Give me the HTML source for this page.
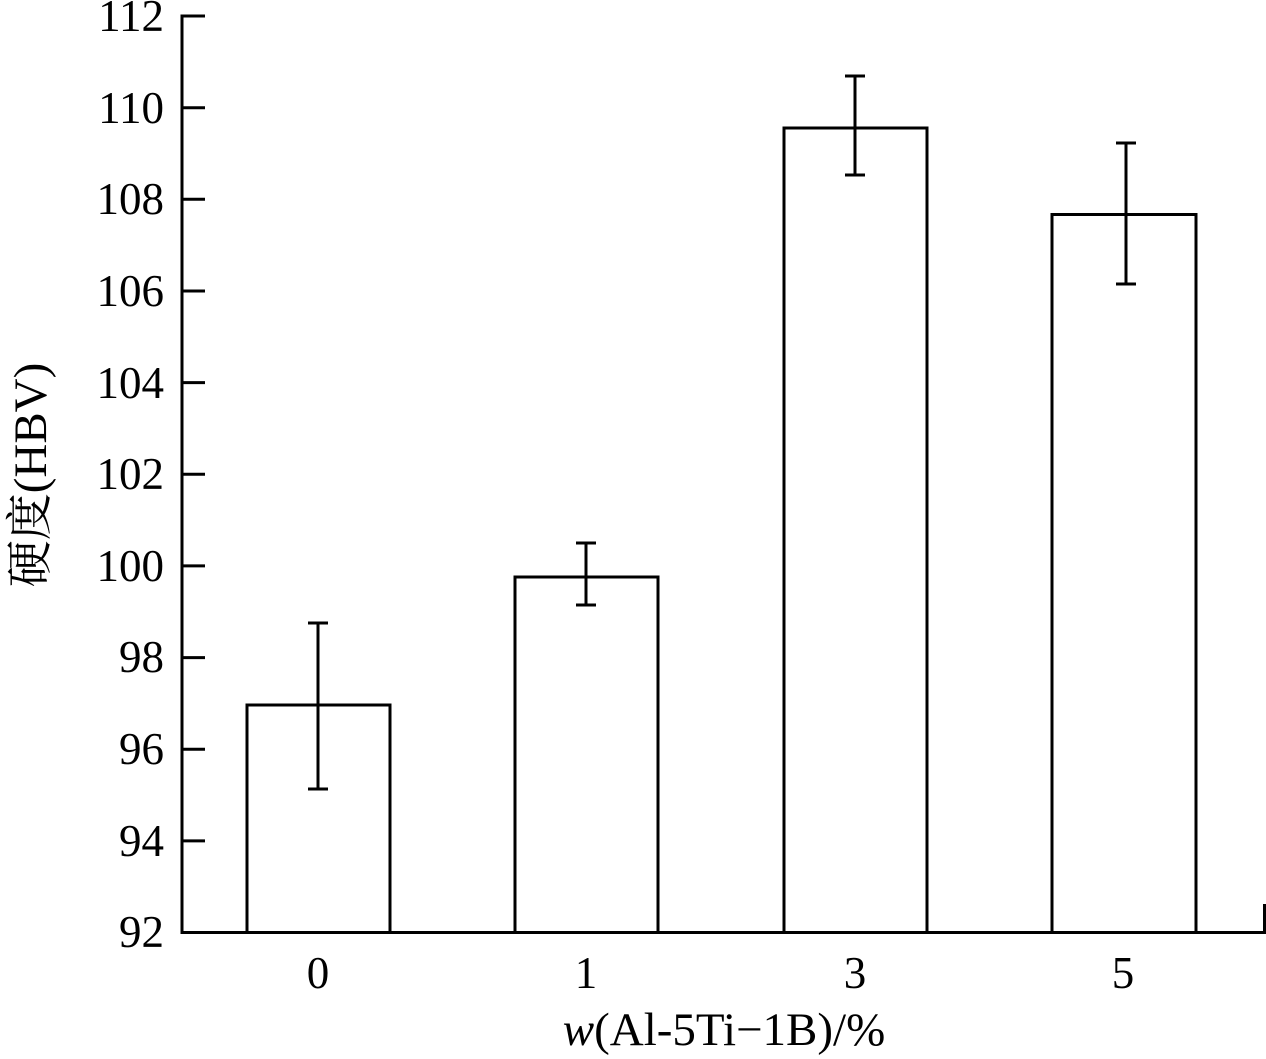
<!DOCTYPE html>
<html><head><meta charset="utf-8"><style>body{margin:0;background:#fff}svg{display:block}</style></head><body>
<svg width="1266" height="1059" xmlns="http://www.w3.org/2000/svg" font-family="Liberation Serif, Noto Serif CJK SC, serif" font-size="45">
<g stroke="#000" stroke-width="3" fill="none">
<line x1="182" y1="14.5" x2="182" y2="934"/>
<line x1="180.5" y1="932.5" x2="1265" y2="932.5"/>
<line x1="1264.5" y1="904" x2="1264.5" y2="934"/>
<g>
<line x1="182" y1="16" x2="205" y2="16"/>
<line x1="182" y1="107.7" x2="205" y2="107.7"/>
<line x1="182" y1="199.3" x2="205" y2="199.3"/>
<line x1="182" y1="291" x2="205" y2="291"/>
<line x1="182" y1="382.6" x2="205" y2="382.6"/>
<line x1="182" y1="474.3" x2="205" y2="474.3"/>
<line x1="182" y1="565.9" x2="205" y2="565.9"/>
<line x1="182" y1="657.6" x2="205" y2="657.6"/>
<line x1="182" y1="749.2" x2="205" y2="749.2"/>
<line x1="182" y1="840.9" x2="205" y2="840.9"/>
</g>
<rect x="247" y="705" width="143" height="227.5"/>
<rect x="515" y="577" width="143" height="355.5"/>
<rect x="784" y="128" width="143" height="804.5"/>
<rect x="1052" y="214.5" width="144" height="718"/>
<path d="M318 623V789M308 623H328M308 789H328"/>
<path d="M586 543V605M576 543H596M576 605H596"/>
<path d="M855 76V175M845 76H865M845 175H865"/>
<path d="M1126 143V284M1116 143H1136M1116 284H1136"/>
</g>
<g text-anchor="end">
<text x="164" y="31">112</text>
<text x="164" y="123">110</text>
<text x="164" y="214">108</text>
<text x="164" y="306">106</text>
<text x="164" y="398">104</text>
<text x="164" y="489">102</text>
<text x="164" y="581">100</text>
<text x="164" y="672">98</text>
<text x="164" y="764">96</text>
<text x="164" y="856">94</text>
<text x="164" y="947">92</text>
</g>
<g text-anchor="middle">
<text x="318" y="988">0</text>
<text x="586" y="988">1</text>
<text x="855" y="988">3</text>
<text x="1123" y="988">5</text>
<text x="724" y="1045" font-size="47"><tspan font-style="italic">w</tspan>(Al-5Ti−1B)/%</text>
<text transform="translate(46,475) rotate(-90)" font-size="47">硬度(HBV)</text>
</g>
</svg>
</body></html>
